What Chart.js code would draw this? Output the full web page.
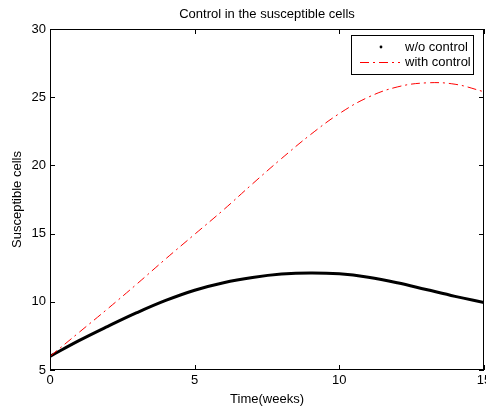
<!DOCTYPE html>
<html>
<head>
<meta charset="utf-8">
<title>Control in the susceptible cells</title>
<script src="https://cdn.jsdelivr.net/npm/chart.js@4.4.1/dist/chart.umd.min.js"></script>
<style>
  html, body { margin: 0; padding: 0; background: #fff; }
  #wrap { width: 486px; height: 410px; position: relative; }
</style>
</head>
<body>
<div id="wrap"><canvas id="cells"></canvas></div>
<script>
  // dane
  const weeks = [0, 1, 2, 3, 4, 5, 6, 7, 8, 9, 10, 11, 12, 13, 14, 15];
  const withoutControl = [6.0, 7.15, 8.2, 9.2, 10.1, 10.85, 11.4, 11.78, 12.03, 12.12, 12.05, 11.8, 11.4, 10.9, 10.4, 9.95];
  const withControl = [6.0, 7.75, 9.5, 11.3, 13.15, 14.95, 16.75, 18.65, 20.5, 22.25, 23.8, 25.0, 25.75, 26.05, 25.95, 25.4];
  const xTicks = [0, 5, 10, 15];
  const yTicks = [5, 10, 15, 20, 25, 30];
  const seriesNames = ['w/o control', 'with control'];
  const chartTitle = 'Control in the susceptible cells';

  const FONT = 'Liberation Sans, Arial, sans-serif';
  const FONT_SIZE = 13;
  Chart.defaults.font.family = FONT;
  Chart.defaults.font.size = FONT_SIZE;
  Chart.defaults.color = '#000';

  const toPoints = (vals) => weeks.map((w, i) => ({ x: w, y: vals[i] }));

  // ramka, ticki do srodka, tytul i legenda (styl matlaba)
  const matlabFrame = {
    id: 'matlabFrame',
    afterDatasetsDraw(chart) {
      const { ctx, chartArea: a, scales: { x, y } } = chart;
      const tick = 5;
      ctx.save();
      ctx.strokeStyle = '#000';
      ctx.lineWidth = 1;
      ctx.strokeRect(a.left + 0.5, a.top + 0.5, a.right - a.left - 1, a.bottom - a.top - 1);

      ctx.beginPath();
      xTicks.forEach(function (v) {
        const px = Math.round(x.getPixelForValue(v)) + 0.5;
        ctx.moveTo(px, a.bottom);
        ctx.lineTo(px, a.bottom - tick);
        ctx.moveTo(px, a.top);
        ctx.lineTo(px, a.top + tick);
      });
      yTicks.forEach(function (v) {
        const py = Math.round(y.getPixelForValue(v)) + 0.5;
        ctx.moveTo(a.left, py);
        ctx.lineTo(a.left + tick, py);
        ctx.moveTo(a.right, py);
        ctx.lineTo(a.right - tick, py);
      });
      ctx.stroke();

      // tytul
      ctx.fillStyle = '#000';
      ctx.font = FONT_SIZE + 'px ' + FONT;
      ctx.textAlign = 'center';
      ctx.textBaseline = 'middle';
      ctx.fillText(chartTitle, (a.left + a.right) / 2, 14);

      // legenda
      const box = { left: a.right - 133, top: a.top + 6, w: 122, h: 39 };
      ctx.fillStyle = '#fff';
      ctx.fillRect(box.left, box.top, box.w, box.h);
      ctx.strokeRect(box.left + 0.5, box.top + 0.5, box.w, box.h);

      const row1 = box.top + 12;
      const row2 = box.top + 27;

      ctx.fillStyle = '#000';
      ctx.beginPath();
      ctx.arc(box.left + 30, row1, 1.4, 0, Math.PI * 2);
      ctx.fill();

      ctx.strokeStyle = '#ff0000';
      ctx.setLineDash([9, 4, 2, 4]);
      ctx.beginPath();
      ctx.moveTo(box.left + 9, row2 + 0.5);
      ctx.lineTo(box.left + 49, row2 + 0.5);
      ctx.stroke();
      ctx.setLineDash([]);

      ctx.fillStyle = '#000';
      ctx.textAlign = 'left';
      ctx.fillText(seriesNames[0], box.left + 54, row1);
      ctx.fillText(seriesNames[1], box.left + 54, row2);
      ctx.restore();
    }
  };

  const ctx = document.getElementById('cells').getContext('2d');

  const chart = new Chart(ctx, {
    type: 'line',
    data: {
      datasets: [{
        label: seriesNames[1],
        data: toPoints(withControl),
        borderColor: '#ff0000',
        borderWidth: 1,
        borderDash: [9, 4, 2, 4],
        pointRadius: 0,
        tension: 0.4,
      },
      {
        label: seriesNames[0],
        data: toPoints(withoutControl),
        borderColor: '#000',
        borderWidth: 3,
        pointRadius: 0,
        tension: 0.4,
      }]
    },
    options: {
      responsive: true,
      maintainAspectRatio: false,
      animation: false,
      layout: { padding: { top: 29, right: 2, left: 0, bottom: 0 } },
      plugins: {
        legend: { display: false },
        title: { display: false },
        tooltip: { enabled: false },
      },
      scales: {
        x: {
          type: 'linear',
          min: 0,
          max: 15,
          afterBuildTicks: function (scale) {
            scale.ticks = xTicks.map(v => ({ value: v }));
          },
          afterFit: function (scale) {
            scale.height = 40;
            scale.paddingLeft = 0;
            scale.paddingRight = 0;
          },
          grid: { display: false, drawTicks: false },
          border: { display: false },
          ticks: { padding: 3, maxRotation: 0, autoSkip: false, color: '#000' },
          title: { display: true, text: 'Time(weeks)', color: '#000', padding: { top: 0, bottom: 3 } },
        },
        y: {
          type: 'linear',
          min: 5,
          max: 30,
          afterBuildTicks: function (scale) {
            scale.ticks = yTicks.map(v => ({ value: v }));
          },
          afterFit: function (scale) {
            scale.width = 50;
            scale.paddingTop = 0;
            scale.paddingBottom = 0;
          },
          grid: { display: false, drawTicks: false },
          border: { display: false },
          ticks: { padding: 4, color: '#000' },
          title: { display: true, text: 'Susceptible cells', color: '#000', padding: { top: 10, bottom: 0 } },
        }
      }
    },
    plugins: [matlabFrame]
  });
</script>
</body>
</html>
